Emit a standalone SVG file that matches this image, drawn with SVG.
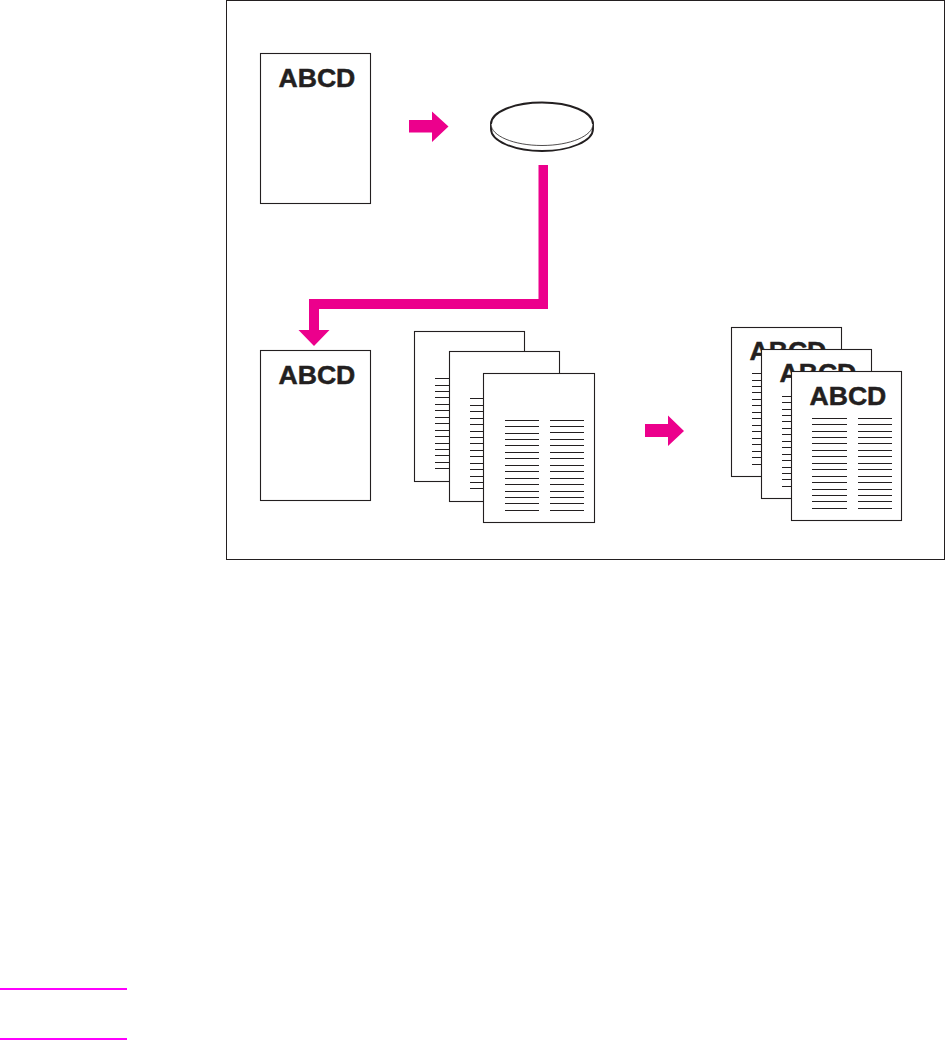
<svg xmlns="http://www.w3.org/2000/svg" width="947" height="1041" viewBox="0 0 947 1041">
<style>
.page{fill:#fff;stroke:#231f20;stroke-width:1.1}
.ln{fill:none;stroke:#231f20;stroke-width:1.2}
.t{font-family:"Liberation Sans",Arial,sans-serif;font-weight:700;font-size:26.6px;fill:#231f20;stroke:#231f20;stroke-width:.5}
.arrow{fill:#ec008c}
.rule{stroke:#f0f;stroke-width:2}
</style>
<rect id="frame" x="226.5" y="0.5" width="718" height="559" fill="#fff" stroke="#231f20" stroke-width="1"/>
<g id="original-top">
<rect class="page" x="260.5" y="53.5" width="110" height="150"/>
<text class="t" x="278.5" y="87">ABCD</text>
</g>
<g id="disk">
<path d="M491 124V129C491 141 514 151 542 151S593 141 593 129V124" fill="#fff" stroke="#231f20" stroke-width="1.9"/>
<ellipse cx="542" cy="124" rx="51" ry="21.5" fill="#fff" stroke="none"/>
<path d="M491 124C491 112 514 102.5 542 102.5S593 112 593 124" fill="none" stroke="#231f20" stroke-width="1.9"/>
<path d="M491 124C491 136 514 145.5 542 145.5S593 136 593 124" fill="none" stroke="#231f20" stroke-width=".8"/>
</g>
<g id="original-bottom">
<rect class="page" x="260.5" y="350.5" width="110" height="150"/>
<text class="t" x="278.5" y="384">ABCD</text>
</g>
<g id="input-stack">
<g id="input-1">
<rect class="page" x="414.5" y="331.5" width="110" height="150"/>
<path class="ln" d="M435 378.5H450M435 385.5H450M435 391.5H450M435 397.5H450M435 404.5H450M435 410.5H450M435 417.5H450M435 423.5H450M435 430.5H450M435 436.5H450M435 443.5H450M435 449.5H450M435 455.5H450M435 462.5H450M435 468.5H450"/>
</g>
<g id="input-2">
<rect class="page" x="449.5" y="351.5" width="110" height="150"/>
<path class="ln" d="M470 398.5H484M470 405.5H484M470 411.5H484M470 418.5H484M470 424.5H484M470 431.5H484M470 437.5H484M470 443.5H484M470 450.5H484M470 456.5H484M470 463.5H484M470 469.5H484M470 476.5H484M470 482.5H484M470 488.5H484"/>
</g>
<g id="input-3">
<rect class="page" x="483.5" y="373.5" width="111" height="149"/>
<path class="ln" d="M505 420.5H539M505 426.5H539M505 433.5H539M505 439.5H539M505 445.5H539M505 452.5H539M505 458.5H539M505 465.5H539M505 471.5H539M505 478.5H539M505 484.5H539M505 491.5H539M505 497.5H539M505 503.5H539M505 510.5H539M550 420.5H584M550 426.5H584M550 432.5H584M550 439.5H584M550 445.5H584M550 452.5H584M550 458.5H584M550 465.5H584M550 471.5H584M550 478.5H584M550 484.5H584M550 491.5H584M550 497.5H584M550 503.5H584M550 510.5H584"/>
</g>
</g>
<g id="output-stack">
<g id="output-1">
<rect class="page" x="731.5" y="327.5" width="110" height="149"/>
<text class="t" x="749.5" y="360">ABCD</text>
<path class="ln" d="M752 373.5H762M752 380.5H762M752 386.5H762M752 392.5H762M752 399.5H762M752 405.5H762M752 412.5H762M752 418.5H762M752 425.5H762M752 431.5H762M752 438.5H762M752 444.5H762M752 451.5H762M752 457.5H762M752 464.5H762"/>
</g>
<g id="output-2">
<rect class="page" x="761.5" y="349.5" width="110" height="149"/>
<text class="t" x="779.5" y="382">ABCD</text>
<path class="ln" d="M782 396.5H792M782 402.5H792M782 409.5H792M782 415.5H792M782 421.5H792M782 428.5H792M782 434.5H792M782 441.5H792M782 447.5H792M782 454.5H792M782 460.5H792M782 467.5H792M782 473.5H792M782 479.5H792M782 486.5H792"/>
</g>
<g id="output-3">
<rect class="page" x="791.5" y="371.5" width="110" height="149"/>
<text class="t" x="809.5" y="404.5">ABCD</text>
<path class="ln" d="M812 418.5H847M812 424.5H847M812 431.5H847M812 437.5H847M812 443.5H847M812 450.5H847M812 456.5H847M812 463.5H847M812 469.5H847M812 476.5H847M812 482.5H847M812 489.5H847M812 495.5H847M812 501.5H847M812 508.5H847M858 418.5H892M858 424.5H892M858 431.5H892M858 437.5H892M858 443.5H892M858 450.5H892M858 456.5H892M858 463.5H892M858 469.5H892M858 476.5H892M858 482.5H892M858 489.5H892M858 495.5H892M858 501.5H892M858 508.5H892"/>
</g>
</g>
<g id="connectors">
<path class="arrow" d="M409 120H432V111.5L448.5 126.5L432 142V132.5H409Z"/>
<path class="arrow" d="M645 424H668V415.5L684 431L668 446V437H645Z"/>
<path class="arrow" d="M538.5 165H548V309H319V330H329.5L314 346L298.5 330H309V299H538.5Z"/>
</g>
<g id="margin-rules">
<line class="rule" x1="0" y1="989" x2="127" y2="989"/>
<line class="rule" x1="0" y1="1039" x2="127" y2="1039"/>
</g>
</svg>
